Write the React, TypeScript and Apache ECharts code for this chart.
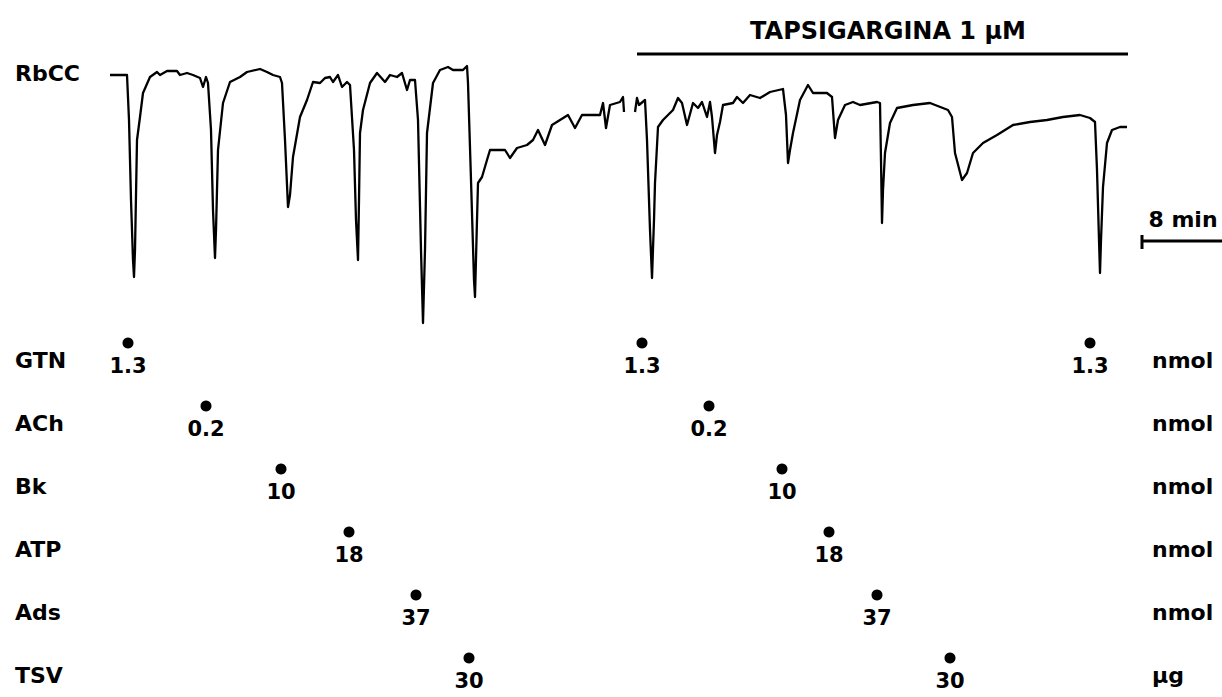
import { useEffect, useRef } from "react";
import * as echarts from "echarts";

// Agents applied (rows), their doses and units
const agents = ["GTN", "ACh", "Bk", "ATP", "Ads", "TSV"];
const units = ["nmol", "nmol", "nmol", "nmol", "nmol", "µg"];
const doseLabels = ["1.3", "0.2", "10", "18", "37", "30"];
// injection times (min) before and during tapsigargin
const doseTimesBefore = [1.8, 9.6, 17.1, 23.9, 30.6, 35.9];
const doseTimesAfter = [53.2, 59.9, 67.2, 71.9, 76.7, 84.0];
const gtnFinalTime = 98.0;

// tapsigargin exposure (min)
const tapsigarginPeriod = [52.7, 101.8];
const tapsigarginLevel = 2.1;

// time scale bar
const scaleBarMinutes = 8;
const scaleBarStart = 103.2;
const scaleBarLevel = -16.6;

// RbCC tension trace (time in min, tension change in arbitrary units)
const traceBefore: [number, number][] = [
  [0, 0], [1.7, 0], [1.9, -4.5], [2.1, -12.5], [2.3, -18.5], [2.4, -20.2], [2.5, -17.5], [2.7, -6.5],
  [3.0, -4.2], [3.3, -1.8], [4.0, -0.2], [4.7, 0.3], [5.0, 0], [5.7, 0.4], [6.7, 0.4], [7.0, 0],
  [7.7, 0.2], [8.3, 0], [9.0, -0.3], [9.3, -1.2], [9.6, -0.2], [9.8, -0.8], [10.1, -5.5], [10.3, -13.5],
  [10.5, -18.3], [10.6, -15.5], [10.8, -7.5], [11.3, -2.8], [12.0, -0.7], [13.0, -0.2], [13.7, 0.3],
  [15.0, 0.6], [15.7, 0.3], [16.3, 0], [17.0, -0.2], [17.2, -0.8], [17.5, -6.5], [17.8, -13.2],
  [18.0, -12.0], [18.3, -8.2], [19.0, -4.2], [19.7, -2.5], [20.3, -0.7], [21.0, -0.8], [21.5, -0.3],
  [22.0, -0.2], [22.3, -0.7], [22.8, 0], [23.2, -1.2], [23.7, -0.7], [24.0, -1.0], [24.4, -7.5],
  [24.6, -14.5], [24.8, -18.5], [24.9, -12.5], [25.0, -5.8], [25.3, -3.5], [26.0, -0.8], [26.7, 0.2],
  [27.5, -0.7], [28.0, 0], [28.7, -0.2], [29.2, 0.2], [29.7, -1.5], [30.0, -0.5], [30.5, -0.5],
  [30.8, -4.5], [31.1, -17.5], [31.3, -24.8], [31.5, -17.5], [31.7, -5.8], [32.3, -0.8], [33.0, 0.5],
  [33.8, 0.8], [34.3, 0.5], [35.3, 0.5], [35.7, 0.9], [35.8, -0.8], [36.1, -10.5], [36.4, -20.5],
  [36.5, -22.2], [36.7, -14.5], [36.8, -10.8], [37.2, -10.2], [37.7, -8.5], [38.0, -7.5], [38.7, -7.5],
  [39.5, -7.5], [40.0, -8.3], [40.7, -7.3], [41.7, -7.0], [42.3, -6.5], [42.8, -5.5], [43.5, -7.0],
  [44.2, -5.0], [45.0, -4.5], [45.8, -4.0], [46.5, -5.3], [47.2, -4.0], [49.0, -4.0], [49.3, -2.8],
  [49.6, -5.3], [50.0, -3.0], [51.0, -2.7], [51.3, -2.2], [51.4, -3.7],
];
const traceAfter: [number, number][] = [
  [52.5, -3.7], [52.7, -2.3], [52.9, -3.0], [53.5, -2.5], [53.7, -6.5], [54.0, -15.5], [54.2, -20.3],
  [54.4, -14.5], [54.5, -10.8], [54.8, -5.2], [55.3, -4.5], [56.3, -3.5], [56.8, -2.3], [57.2, -2.8],
  [57.7, -5.0], [58.3, -2.8], [58.8, -3.3], [59.2, -2.7], [59.7, -4.2], [60.0, -2.7], [60.2, -4.2],
  [60.5, -7.8], [60.7, -6.0], [61.0, -4.7], [61.3, -3.0], [62.3, -2.8], [62.7, -2.2], [63.3, -2.8],
  [64.0, -2.0], [65.0, -2.3], [66.0, -1.7], [67.3, -1.4], [67.6, -4.0], [67.8, -8.8], [68.0, -7.5],
  [68.3, -5.8], [69.0, -2.5], [69.8, -1.0], [70.3, -1.8], [71.7, -1.8], [72.2, -2.2], [72.5, -6.3],
  [72.8, -4.5], [73.5, -3.0], [74.3, -2.7], [75.0, -3.0], [76.7, -2.7], [77.0, -2.8], [77.1, -8.5],
  [77.2, -14.8], [77.3, -11.5], [77.5, -7.8], [78.0, -4.8], [78.7, -3.3], [80.3, -3.0], [82.0, -2.8],
  [83.8, -3.5], [84.2, -4.2], [84.5, -7.8], [85.2, -10.5], [85.7, -9.8], [86.3, -7.8], [87.3, -6.8],
  [88.7, -6.0], [90.3, -5.0], [92.0, -4.7], [93.7, -4.5], [95.3, -4.2], [97.0, -4.0], [98.0, -4.3],
  [98.5, -4.7], [98.7, -9.5], [98.9, -16.5], [99.0, -19.8], [99.1, -16.5], [99.3, -11.2], [99.7, -6.8],
  [100.2, -5.5], [101.0, -5.2], [101.7, -5.2],
];

const FONT = "DejaVu Sans";

export default function App() {
  const ref = useRef<HTMLDivElement>(null);
  useEffect(() => {
    if (!ref.current) return;
    const chart = echarts.init(ref.current, undefined, { renderer: "svg" });

    const traceData: any[] = [
      ...traceBefore.map((p) => [p[0], p[1]]),
      [null, null],
      ...traceAfter.map((p) => [p[0], p[1]]),
    ];

    const doseData: any[] = [];
    agents.forEach((a, i) => {
      doseData.push({ name: doseLabels[i], value: [doseTimesBefore[i], a] });
      doseData.push({ name: doseLabels[i], value: [doseTimesAfter[i], a] });
    });
    doseData.push({ name: doseLabels[0], value: [gtnFinalTime, agents[0]] });

    const scaleBarEnd = scaleBarStart + scaleBarMinutes;

    const textStyle = { fontFamily: FONT, fontWeight: "bold" as const, fontSize: 22, color: "#000" };

    chart.setOption({
      animation: false,
      backgroundColor: "#fff",
      grid: [
        { left: 0, right: 0, top: 0, bottom: 0 },
        { left: 110, right: 94, top: 360, bottom: 22 },
      ],
      xAxis: [
        { type: "value", gridIndex: 0, min: -11, max: 111.2, show: false },
        { type: "value", gridIndex: 1, min: 0, max: 101.8, show: false },
      ],
      yAxis: [
        { type: "value", gridIndex: 0, min: -62.2, max: 7.5, show: false },
        {
          type: "category",
          gridIndex: 1,
          data: agents,
          inverse: true,
          boundaryGap: false,
          axisLine: { show: false },
          axisTick: { show: false },
          splitLine: { show: false },
          axisLabel: { ...textStyle, align: "left", margin: 95 },
        },
        {
          type: "category",
          gridIndex: 1,
          position: "right",
          data: units,
          inverse: true,
          boundaryGap: false,
          axisLine: { show: false },
          axisTick: { show: false },
          splitLine: { show: false },
          axisLabel: { ...textStyle, align: "left", margin: 24 },
        },
      ],
      graphic: [
        {
          type: "text",
          left: 15,
          top: 62,
          style: { text: "RbCC", font: `bold 22px "${FONT}"`, fill: "#000" },
        },
        {
          type: "text",
          x: 888,
          y: 31,
          style: {
            text: "TAPSIGARGINA 1 µM",
            font: `bold 24px "${FONT}"`,
            fill: "#000",
            align: "center",
            verticalAlign: "middle",
          },
        },
        {
          type: "text",
          x: 1183,
          y: 219,
          style: {
            text: "8 min",
            font: `bold 22px "${FONT}"`,
            fill: "#000",
            align: "center",
            verticalAlign: "middle",
          },
        },
      ],
      series: [
        {
          type: "line",
          name: "RbCC",
          xAxisIndex: 0,
          yAxisIndex: 0,
          data: traceData,
          showSymbol: false,
          connectNulls: false,
          lineStyle: { color: "#000", width: 2.3, join: "round" },
          silent: true,
        },
        {
          type: "line",
          name: "Tapsigargina",
          xAxisIndex: 0,
          yAxisIndex: 0,
          data: [
            [tapsigarginPeriod[0], tapsigarginLevel],
            [tapsigarginPeriod[1], tapsigarginLevel],
          ],
          showSymbol: false,
          lineStyle: { color: "#000", width: 3 },
          silent: true,
        },
        {
          type: "line",
          name: "scale",
          xAxisIndex: 0,
          yAxisIndex: 0,
          data: [
            [scaleBarStart, scaleBarLevel + 0.6],
            [scaleBarStart, scaleBarLevel - 0.8],
            [null, null],
            [scaleBarStart, scaleBarLevel],
            [scaleBarEnd, scaleBarLevel],
          ],
          connectNulls: false,
          showSymbol: false,
          lineStyle: { color: "#000", width: 3 },
          silent: true,
        },
        {
          type: "scatter",
          name: "doses",
          xAxisIndex: 1,
          yAxisIndex: 1,
          data: doseData,
          symbol: "circle",
          symbolSize: 11,
          symbolOffset: [0, -17],
          itemStyle: { color: "#000", opacity: 1 },
          silent: true,
        },
        {
          type: "scatter",
          name: "doseLabels",
          xAxisIndex: 1,
          yAxisIndex: 1,
          data: doseData,
          symbol: "circle",
          symbolSize: 0,
          itemStyle: { color: "#000", opacity: 1 },
          label: {
            show: true,
            position: "inside",
            offset: [0, 6],
            formatter: "{b}",
            fontFamily: FONT,
            fontWeight: "bold",
            fontSize: 21,
            color: "#000",
            opacity: 1,
          },
          silent: true,
        },
      ],
    });
    return () => chart.dispose();
  }, []);
  return (
    <div
      ref={ref}
      style={{ position: "fixed", left: 0, top: 0, width: 1222, height: 697, background: "#fff" }}
    />
  );
}
